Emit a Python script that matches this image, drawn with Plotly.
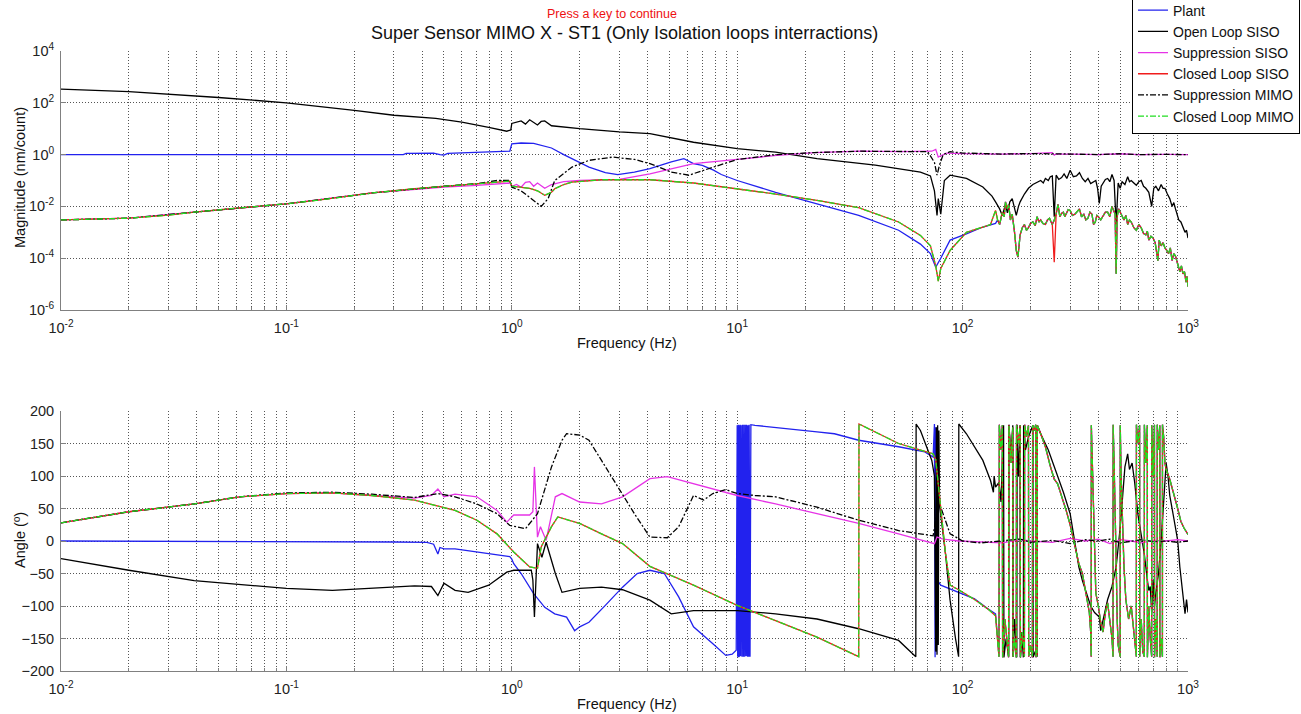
import plotly.graph_objects as go

# ---------------- measured data ----------------
# Closed loop (SISO / MIMO), magnitude, low/mid band
cl_lo_mag_f = [0.01, 0.015, 0.02, 0.03, 0.039, 0.06, 0.1, 0.15, 0.24, 0.37, 0.56, 0.86, 0.98, 1.0, 1.1,
               1.2, 1.3, 1.4, 1.5, 1.55, 1.7, 1.85, 2.5, 4.1, 6.4, 10, 14.8, 22.6, 34.6, 52, 65, 72, 76,
               78, 80, 88, 104, 123, 133, 140]
cl_lo_mag = [3.0e-3, 3.2e-3, 3.5e-3, 4.6e-3, 6.0e-3, 8.5e-3, 1.26e-2, 1.9e-2, 3.3e-2, 4.8e-2, 6.5e-2,
             8.7e-2, 9.5e-2, 6.0e-2, 5.5e-2, 5.0e-2, 4.0e-2, 2.7e-2, 3.5e-2, 4.8e-2, 7e-2, 8.7e-2, 0.107,
             0.107, 0.08, 0.048, 0.03, 0.017, 8.9e-3, 2.5e-3, 7.6e-4, 3e-4, 5e-5, 1.3e-5, 4e-5, 2e-4,
             1e-3, 1.6e-3, 2e-3, 7e-3]

# Closed loop magnitude, high band (shared by plant above 140 Hz)
cl_hf_mag_f = [143, 146, 150, 153, 155, 158, 160, 163, 166, 170,
               173, 176, 180, 184, 188, 192, 196, 200, 205, 210,
               214, 218, 222, 227, 233, 238, 243, 247, 250, 255,
               260, 265, 270, 275, 280, 284, 288, 294, 300, 307,
               315, 322, 330, 337, 345, 352, 360, 367, 375, 381,
               388, 394, 400, 410, 422, 430, 440, 450, 460, 468,
               475, 480, 485, 492, 500, 510, 520, 530, 540, 550,
               560, 575, 590, 605, 620, 635, 650, 660, 670, 685,
               700, 715, 735, 745, 760, 775, 790, 805, 820, 835,
               850, 865, 880, 900, 920, 935, 950, 965, 980, 990,
               1000]
cl_hf_mag = [3e-3, 2e-3, 6e-3, 4e-3, 1.5e-2, 8e-3, 1.2e-2, 3e-3, 5e-3, 1e-3,
             2e-4, 1.1e-4, 8e-4, 1.5e-3, 2e-3, 1.2e-3, 1.5e-3, 2.2e-3, 2.5e-3, 1.8e-3,
             4e-3, 2.5e-3, 3e-3, 2.2e-3, 2e-3, 3e-3, 3.5e-3, 2.5e-3, 2e-3, 3e-3,
             5e-3, 1.2e-2, 4e-3, 5.5e-3, 6e-3, 4e-3, 5e-3, 7.5e-3, 7e-3, 4.5e-3,
             5e-3, 6.5e-3, 8e-3, 4e-3, 5e-3, 3e-3, 3.5e-3, 6e-3, 5e-3, 2e-3,
             2.5e-3, 4.5e-3, 4e-3, 3e-3, 4.5e-3, 6e-3, 6e-3, 4e-3, 1e-2, 7e-3,
             5e-3, 2.5e-5, 4e-3, 8e-3, 6e-3, 4e-3, 3e-3, 4.5e-3, 2e-3, 3e-3,
             2.5e-3, 1.5e-3, 1.2e-3, 2e-3, 1.5e-3, 9e-4, 8e-4, 1.1e-3, 5e-4, 7e-4,
             6e-4, 4e-4, 8e-5, 5e-4, 3e-4, 4e-4, 2.5e-4, 2e-4, 1.5e-4, 2.5e-4,
             8e-5, 1.5e-4, 1.2e-4, 6e-5, 3e-5, 5e-5, 2.5e-5, 3e-5, 1.2e-5, 2e-5,
             8e-6]

# Closed loop SISO notch at 255 Hz
cl_siso_spike_f = [250, 255, 260]
cl_siso_spike_mag = [2e-3, 7e-5, 5e-3]

# Plant magnitude up to 140 Hz
plant_mag_f = [0.01, 0.1, 0.33, 0.34, 0.45, 0.48, 0.5, 0.52, 0.7, 0.9, 0.98, 1.0, 1.1, 1.25, 1.35, 1.5,
               1.7, 1.85, 2.0, 2.2, 2.6, 2.95, 3.5, 4.1, 5.1, 5.8, 6.4, 7.0, 7.85, 8.5, 10, 14.8, 22.6,
               34.6, 52, 65, 72, 76, 80, 88, 104, 123, 140]
plant_mag = [1.0, 1.0, 1.0, 1.12, 1.15, 1.0, 0.95, 1.12, 1.2, 1.3, 1.35, 2.6, 2.8, 2.7, 2.3, 1.8, 1.0,
             0.7, 0.5, 0.33, 0.2, 0.17, 0.21, 0.29, 0.52, 0.7, 0.45, 0.38, 0.25, 0.17, 0.1, 0.035, 0.0126,
             4.5e-3, 1.2e-3, 3.5e-4, 1.5e-4, 4.5e-5, 1e-4, 5e-4, 8.7e-4, 1.6e-3, 2.2e-3]

# Open loop SISO magnitude, up to 135 Hz
ol_lo_mag_f = [0.01, 0.02, 0.05, 0.1, 0.2, 0.3, 0.46, 0.6, 0.8, 0.95, 0.99, 1.0, 1.1, 1.15, 1.2, 1.3,
               1.35, 1.4, 1.5, 2.0, 3.0, 4.1, 6.4, 10, 14.8, 22.6, 41, 65, 72, 75, 77, 78, 80, 83, 88,
               104, 123, 135]
ol_lo_mag = [340, 270, 160, 100, 51, 33, 25, 18, 11, 8, 9, 16, 20, 15, 22, 14, 19, 20, 13, 10, 7.5, 6.5,
             3.0, 1.7, 1.25, 0.7, 0.39, 0.21, 0.15, 0.04, 4.5e-3, 2e-2, 5e-3, 0.1, 0.16, 0.12, 0.056,
             0.025]

# Open loop SISO magnitude, high band
ol_hf_mag_f = [140, 146, 150, 155, 158, 162, 166, 170, 173, 177,
               180, 188, 196, 205, 214, 222, 228, 233, 240, 245,
               250, 255, 260, 267, 275, 282, 290, 300, 310, 320,
               330, 340, 350, 360, 370, 380, 390, 397, 404, 412,
               420, 430, 440, 450, 460, 470, 480, 490, 500, 510,
               525, 540, 550, 560, 575, 590, 605, 620, 635, 650,
               670, 690, 705, 720, 740, 760, 775, 790, 810, 830,
               850, 865, 880, 895, 910, 930, 950, 970, 985, 1000]
ol_hf_mag = [0.015, 8e-3, 4.5e-3, 1.2e-2, 5.6e-3, 1.5e-2, 2e-2, 8e-3, 4.5e-3, 1e-2,
             1.5e-2, 3e-2, 5e-2, 7e-2, 8.7e-2, 0.1, 0.08, 0.12, 0.1, 0.14,
             0.15, 4e-3, 0.16, 0.11, 0.13, 0.18, 0.12, 0.25, 0.14, 0.15,
             0.2, 0.12, 0.09, 0.12, 0.076, 0.09, 0.1, 0.05, 1.3e-2, 0.06,
             0.08, 0.11, 0.12, 0.09, 0.17, 0.1, 2e-3, 0.08, 0.05, 0.09,
             0.07, 0.14, 0.09, 0.1, 0.08, 0.065, 0.09, 0.1, 0.06, 0.05,
             0.035, 1e-2, 0.05, 0.06, 0.04, 0.07, 0.05, 0.05, 0.03, 0.02,
             1e-2, 1.4e-2, 8e-3, 5e-3, 3e-3, 2.5e-3, 1.5e-3, 1e-3, 1.2e-3, 6e-4]

# Suppression SISO magnitude
ss_mag_f = [0.01, 0.02, 0.039, 0.1, 0.24, 0.37, 0.5, 0.7, 0.9, 0.98, 1.0, 1.05, 1.1, 1.15, 1.2, 1.25,
            1.3, 1.4, 1.5, 1.7, 2.0, 3.0, 4.1, 6.4, 10, 15, 22, 35, 52, 73, 76, 78, 80, 85, 100, 150,
            200, 250, 255, 260, 300, 400, 500, 600, 800, 1000]
ss_mag = [3.0e-3, 3.5e-3, 6e-3, 1.26e-2, 3.3e-2, 4.6e-2, 5.5e-2, 6.5e-2, 7.5e-2, 8e-2, 6e-2, 7e-2,
          5.5e-2, 8.5e-2, 9e-2, 6e-2, 8e-2, 5e-2, 7e-2, 9e-2, 0.1, 0.11, 0.18, 0.45, 0.65, 0.93, 1.2,
          1.35, 1.3, 1.35, 1.6, 0.8, 0.9, 1.15, 1.1, 1.05, 1.1, 1.2, 0.95, 1.05, 1.05, 1.0, 1.08, 1.0,
          1.02, 1.0]

# Suppression MIMO magnitude
sm_mag_f = [0.01, 0.02, 0.039, 0.1, 0.24, 0.37, 0.5, 0.7, 0.86, 0.98, 1.0, 1.1, 1.2, 1.3, 1.35, 1.45,
            1.55, 1.85, 2.2, 2.8, 3.5, 4.1, 5.1, 6.1, 7.85, 10, 15, 22, 35, 52, 70, 75, 77, 79, 82, 88,
            100, 150, 200, 300, 400, 500, 600, 800, 1000]
sm_mag = [3.0e-3, 3.5e-3, 6e-3, 1.26e-2, 3.3e-2, 4.8e-2, 6e-2, 7.5e-2, 0.1, 0.1, 5.5e-2, 4e-2, 2.3e-2,
          1.3e-2, 1e-2, 2e-2, 0.1, 0.33, 0.6, 0.8, 0.65, 0.45, 0.21, 0.16, 0.33, 0.65, 1.0, 1.2, 1.35,
          1.35, 1.3, 0.5, 0.16, 0.4, 1.0, 1.3, 1.15, 1.05, 1.1, 1.05, 1.0, 1.08, 1.0, 1.02, 1.0]

# Closed loop phase (deg), low/mid band
cl_lo_ph_f = [0.01, 0.02, 0.039, 0.062, 0.1, 0.16, 0.24, 0.37, 0.56, 0.7, 0.86, 1.02, 1.2, 1.3, 1.35,
              1.5, 1.6, 2.0, 2.5, 3.1, 4.1, 6.4, 10, 14.8, 22.6, 34.6, 34.7, 52, 74, 76, 80, 84, 88, 96,
              113, 130, 140]
cl_lo_ph = [28, 45, 57, 68, 73, 74, 70, 63, 47, 32, 11, -17, -40, -42, -9, 22, 37, 27, 11, -4, -39, -68,
            -99, -122, -148, -178, 180, 150, 134, 125, 50, -20, -68, -75, -90, -105, -115]

# Closed loop phase, high band (shared by plant above 140 Hz)
cl_hf_ph_f = [143, 145, 145.5, 148, 150, 150.5, 154, 158, 160, 160.5, 164, 167, 167.5, 170, 173, 173.5,
              177, 180, 180.5, 184, 188, 188.5, 192, 196, 196.5, 200, 204, 204.5, 208, 211, 211.5, 214,
              214.5, 222, 233, 245, 255, 264, 275, 288, 300, 315, 328, 340, 355, 365, 370, 372, 372.5,
              376, 380, 385, 390, 400, 410, 420, 430, 440, 450, 460, 465, 465.5, 470, 475, 480, 485,
              490, 500, 500.5, 505, 510, 520, 530, 545, 560, 575, 590, 590.5, 600, 610, 610.5, 620, 630,
              640, 640.5, 650, 660, 660.5, 670, 680, 690, 690.5, 700, 710, 710.5, 720, 730, 730.5, 740,
              750, 750.5, 760, 770, 770.5, 780, 790, 800, 830, 870, 900, 930, 960, 1000]
cl_hf_ph = [-150, -178, 179, 140, 178, -179, -120, -160, -179, 178, 120, 175, -178, -150, -179, 179, 150,
            178, -179, -140, -178, 179, 160, 178, -178, -160, -179, 178, 170, 179, -179, -175, 178, 165,
            145, 115, 95, 88, 70, 47, 25, -9, -35, -50, -85, -110, -140, -178, 178, 120, 60, -20, -80,
            -100, -125, -140, -110, -95, -120, -150, -178, 179, 120, 60, -30, -120, -160, -178, 178, 100,
            40, -40, -90, -120, -100, -140, -178, 179, 150, 178, -178, -120, -170, -178, 179, 120, 178,
            -179, -100, -150, -178, 178, 100, 179, -179, -120, -178, 179, 140, 178, -179, -150, -178, 179,
            160, 120, 110, 95, 70, 50, 30, 20, 10]

# Plant phase up to 140 Hz
plant_ph_f = [0.01, 0.07, 0.072, 0.3, 0.42, 0.45, 0.47, 0.48, 0.5, 0.56, 0.7, 0.86, 0.98, 1.0, 1.02, 1.1,
              1.25, 1.4, 1.55, 1.75, 1.9, 2.0, 2.2, 2.6, 3.1, 3.6, 4.1, 4.75, 5.5, 6.4, 7.1, 7.8, 8.9,
              9.5, 9.9, 10.0, 10.05, 10.1, 10.15, 10.2, 10.25, 10.3, 10.35, 10.4, 10.5, 10.55, 10.65,
              10.7, 10.8, 10.85, 10.95, 11.0, 11.1, 11.15, 11.25, 11.3, 11.4, 11.5, 12, 14.8, 22.6, 27,
              34.6, 52, 68, 74, 75, 75.5, 76, 76.5, 77, 80, 96, 113, 129, 140]
plant_ph = [0, 0, -1, -1.5, -2, -5, -20, -10, -12, -12, -17, -22, -24, -28, -35, -50, -81, -102, -112,
            -117, -138, -132, -125, -99, -71, -50, -45, -50, -86, -132, -145, -158, -176, -174, -168, 178,
            -178, 179, -179, 178, -178, 179, -177, 178, -178, 179, -178, 179, -178, 179, -177, 179, -178,
            178, -178, 179, -178, 179, 178, 175, 168, 165, 155, 145, 137, 129, 180, -179, 175, -170, -60,
            -68, -79, -89, -104, -112]

# Open loop SISO phase
ol_ph_f = [0.01, 0.02, 0.039, 0.1, 0.16, 0.24, 0.37, 0.44, 0.47, 0.5, 0.56, 0.64, 0.79, 0.95, 1.02, 1.22,
           1.24, 1.26, 1.3, 1.36, 1.42, 1.56, 1.67, 2.0, 2.5, 3.1, 4.1, 5.1, 6.4, 10, 14.8, 22.6, 34.6,
           52, 62, 62.2, 65, 73, 75, 76, 76.5, 77, 77.5, 78, 78.5, 79, 80, 84, 88, 93, 96, 96.2, 104,
           123, 133, 137, 138, 140, 145, 148, 150, 152, 152.5, 156, 160, 160.5, 164, 167, 167.5, 170,
           174, 174.5, 177, 180, 180.5, 183, 186, 186.5, 190, 196, 205, 205.5, 210, 214, 214.5, 222,
           240, 264, 280, 300, 315, 328, 340, 355, 370, 385, 404, 410, 420, 440, 460, 480, 500, 515,
           525, 540, 550, 565, 580, 600, 620, 640, 660, 670, 680, 690, 700, 710, 720, 740, 760, 780,
           800, 815, 830, 860, 900, 920, 950, 970, 985, 1000]
ol_ph = [-27, -45, -61, -73, -76, -73, -69, -70, -84, -65, -76, -79, -68, -48, -45, -45, -60, -117, -4,
         -25, -2, -50, -79, -73, -71, -75, -91, -112, -107, -107, -112, -120, -135, -153, -178, 180, 170,
         124, 100, -170, 175, -175, 178, -160, 170, 60, 40, -20, -91, -150, -178, 180, 165, 124, 93, 75,
         100, 83, 90, 60, 120, 178, -179, -150, -178, 179, 130, 178, -178, -120, -179, 179, 100, 178,
         -179, -140, -179, 178, 140, 160, 178, -179, -170, -178, 178, 165, 140, 100, 75, 42, 0, -40, -61,
         -80, -100, -110, -117, -138, -120, -90, -70, -40, 20, 80, 114, 134, 110, 120, 90, 40, 10, -20,
         -60, -76, -70, -110, -60, -100, -80, -50, 0, 60, 120, 100, 70, 40, 1, -40, -80, -112, -90, -110]

# Suppression SISO phase
ss_ph_f = [0.01, 0.02, 0.039, 0.062, 0.1, 0.16, 0.24, 0.37, 0.44, 0.47, 0.5, 0.56, 0.7, 0.86, 0.95, 1.02,
           1.2, 1.24, 1.26, 1.3, 1.34, 1.37, 1.42, 1.56, 1.67, 2.0, 2.5, 3.1, 4.1, 4.9, 6.4, 7.8, 10, 14.8,
           22.6, 34.6, 52, 70, 75, 77, 82, 96, 120, 150, 180, 200, 250, 300, 350, 400, 450, 500, 560,
           620, 700, 800, 900, 1000]
ss_ph = [28, 45, 57, 68, 73, 74, 70, 66, 70, 80, 68, 72, 68, 47, 29, 40, 40, 45, 114, 6, 22, 15, 1, 68,
         73, 60, 57, 68, 96, 99, 88, 81, 70, 57, 42, 27, 11, -2, -4, 6, 3, 0, -2, -3, 2, 0, -2, 4, 0, 3,
         -4, 2, 0, -3, 1, 0, 2, 0]

# Suppression MIMO phase
sm_ph_f = [0.01, 0.02, 0.039, 0.062, 0.1, 0.16, 0.24, 0.37, 0.47, 0.56, 0.7, 0.86, 0.98, 1.15, 1.3, 1.5,
           1.67, 1.75, 2.0, 2.2, 2.5, 2.95, 3.5, 4.1, 4.9, 5.5, 6.4, 7.1, 7.8, 8.9, 10, 12, 14.8, 22.6,
           34.6, 52, 68, 74, 77, 80, 88, 100, 120, 150, 180, 200, 250, 300, 350, 400, 450, 500, 560, 620,
           700, 800, 900, 1000]
sm_ph = [28, 45, 57, 68, 74, 75, 72, 67, 73, 68, 57, 42, 24, 19, 42, 114, 155, 165, 163, 155, 124, 83,
         42, 6, 5, 22, 70, 63, 73, 79, 73, 70, 68, 52, 32, 16, 10, 8, 45, 52, 11, 0, -3, 0, 3, -2, 1, -4,
         2, 0, 3, -3, 0, 2, -1, 0, -2, 0]

x_tick_vals = [0.01, 0.1, 1, 10, 100, 1000]
x_tick_text = ["10<sup>-2</sup>", "10<sup>-1</sup>", "10<sup>0</sup>", "10<sup>1</sup>",
               "10<sup>2</sup>", "10<sup>3</sup>"]
mag_tick_vals = [1e-6, 1e-4, 1e-2, 1, 1e2, 1e4]
mag_tick_text = ["10<sup>-6</sup>", "10<sup>-4</sup>", "10<sup>-2</sup>", "10<sup>0</sup>",
                 "10<sup>2</sup>", "10<sup>4</sup>"]
ang_tick_vals = [-200, -150, -100, -50, 0, 50, 100, 150, 200]

# ---------------- figure ----------------
FONT = "Liberation Sans, Arial, sans-serif"
BLUE, BLACK, MAGENTA, RED, GREEN = "#2222ee", "#000000", "#e633e6", "#f01c1c", "#22dd22"
DASHDOT = "6px,2px,2px,2px"
LW = 1.3

fig = go.Figure()


def line(x, y, color, name, axis, dash="solid", legend=False, group=None):
    xa, ya = ("x", "y") if axis == 1 else ("x2", "y2")
    fig.add_trace(go.Scatter(x=x, y=y, mode="lines", name=name, showlegend=legend,
                             legendgroup=group or name, xaxis=xa, yaxis=ya,
                             line=dict(color=color, width=LW, dash=dash)))


ol_mag_f = ol_lo_mag_f + ol_hf_mag_f
ol_mag = ol_lo_mag + ol_hf_mag

# magnitude panel
line(plant_mag_f + cl_hf_mag_f, plant_mag + cl_hf_mag, BLUE, "Plant", 1, legend=True)
line(ol_mag_f, ol_mag, BLACK, "Open Loop SISO", 1, legend=True)
line(ss_mag_f, ss_mag, MAGENTA, "Suppression SISO", 1, legend=True)
line(cl_lo_mag_f + cl_hf_mag_f, cl_lo_mag + cl_hf_mag, RED, "Closed Loop SISO", 1, legend=True)
line(cl_siso_spike_f, cl_siso_spike_mag, RED, "Closed Loop SISO", 1)
line(sm_mag_f, sm_mag, BLACK, "Suppression MIMO", 1, dash=DASHDOT, legend=True)
line(cl_lo_mag_f + cl_hf_mag_f, cl_lo_mag + cl_hf_mag, GREEN, "Closed Loop MIMO", 1, dash=DASHDOT,
     legend=True)

# phase panel
line(plant_ph_f + cl_hf_ph_f, plant_ph + cl_hf_ph, BLUE, "Plant", 2)
line(ol_ph_f, ol_ph, BLACK, "Open Loop SISO", 2)
line(ss_ph_f, ss_ph, MAGENTA, "Suppression SISO", 2)
line(cl_lo_ph_f + cl_hf_ph_f, cl_lo_ph + cl_hf_ph, RED, "Closed Loop SISO", 2)
line(sm_ph_f, sm_ph, BLACK, "Suppression MIMO", 2, dash=DASHDOT)
line(cl_lo_ph_f + cl_hf_ph_f, cl_lo_ph + cl_hf_ph, GREEN, "Closed Loop MIMO", 2, dash=DASHDOT)

W, H = 1301, 714
X0, X1 = 61 / W, 1188 / W
GRID = dict(showgrid=True, gridcolor="#555555", griddash="1px,2px", gridwidth=1)
minor_x = [m * 10 ** e for e in range(-2, 3) for m in range(2, 10)]
TICKFONT = dict(family=FONT, size=14.5, color="#222222")

xcommon = dict(type="log", range=[-2, 3], domain=[X0, X1], tickvals=x_tick_vals, ticktext=x_tick_text,
               ticks="inside", ticklen=5, tickcolor="#808080", showline=True, linecolor="#808080",
               linewidth=1, zeroline=False, tickfont=TICKFONT, automargin=False, ticklabelstandoff=5,
               minor=dict(tickvals=minor_x, ticks="inside", ticklen=3, tickcolor="#808080",
                          showgrid=True, gridcolor="#555555", griddash="1px,2px", gridwidth=1),
               **GRID)
ycommon = dict(ticks="inside", ticklen=5, tickcolor="#808080", showline=True, linecolor="#808080",
               linewidth=1, zeroline=False, tickfont=TICKFONT, automargin=False, ticklabelstandoff=3,
               **GRID)

fig.update_layout(
    width=W, height=H, margin=dict(l=0, r=0, t=0, b=0, autoexpand=False),
    paper_bgcolor="white", plot_bgcolor="white",
    font=dict(family=FONT, size=14, color="#111111"),
    xaxis=dict(anchor="y", **xcommon),
    yaxis=dict(type="log", range=[-6, 4], domain=[1 - 310 / H, 1 - 51 / H], anchor="x",
               tickvals=mag_tick_vals, ticktext=mag_tick_text, **ycommon),
    xaxis2=dict(anchor="y2", **xcommon),
    yaxis2=dict(range=[-200, 200], domain=[1 - 671 / H, 1 - 411 / H], anchor="x2",
                tickvals=ang_tick_vals, **ycommon),
    legend=dict(x=1132 / W, y=1.009, xanchor="left", yanchor="top", bgcolor="white",
                bordercolor="#000000", borderwidth=1, font=dict(family=FONT, size=14, color="#111111"),
                itemwidth=30, tracegroupgap=0),
    showlegend=True,
)

ann = [
    dict(text="Press a key to continue", x=612 / W, y=1 - 14 / H, font=dict(size=12.5, color="#ee1111")),
    dict(text="Super Sensor MIMO X - ST1 (Only Isolation loops interractions)", x=624 / W, y=1 - 33 / H,
         font=dict(size=18, color="#111111")),
    dict(text="Magnitude (nm/count)", x=20 / W, y=1 - 178 / H, textangle=-90, font=dict(size=14.5)),
    dict(text="Frequency (Hz)", x=627 / W, y=1 - 343 / H, font=dict(size=14.5)),
    dict(text="Angle (º)", x=20 / W, y=1 - 540 / H, textangle=-90, font=dict(size=14.5)),
    dict(text="Frequency (Hz)", x=627 / W, y=1 - 704 / H, font=dict(size=14.5)),
]
for a in ann:
    a.setdefault("font", {})
    a["font"].setdefault("family", FONT)
    a["font"].setdefault("color", "#111111")
    fig.add_annotation(xref="paper", yref="paper", xanchor="center", yanchor="middle",
                       showarrow=False, **a)

fig.write_html("out.html")
